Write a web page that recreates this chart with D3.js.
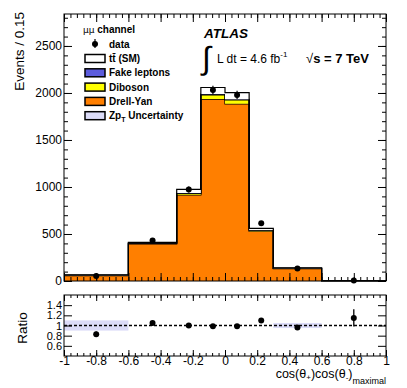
<!DOCTYPE html>
<html>
<head>
<meta charset="utf-8">
<script src="https://cdn.jsdelivr.net/npm/d3@7"></script>
<style>
body { margin: 0; background: #fff; }
text { font-family: "Liberation Sans", Arial, sans-serif; fill: #000; }
</style>
</head>
<body>
<svg id="chart" width="407" height="388"></svg>
<script>
// bin edges in cos(theta+)cos(theta-)
const binEdges = [-1, -0.6, -0.3, -0.15, 0, 0.15, 0.3, 0.6, 1];
// events / 0.15
const drellYan = [58, 395, 915, 1935, 1885, 530, 132, 3];
const diboson  = [2, 6, 15, 45, 40, 10, 2, 0.5];
const fakeLep  = [1, 2, 5, 8, 8, 3, 1, 0.5];
const ttbar    = [4, 8, 40, 70, 70, 17, 4, 1];
const dataVals = [54, 432, 973, 2032, 1979, 614, 134, 6];
const dataErr  = [6, 16, 32, 45, 44, 19, 9, 3];
// lower panel
const ratioVals = [0.83, 1.05, 1.0, 0.985, 0.985, 1.10, 0.96, 1.15];
const ratioErr  = [0.05, 0.02, 0.015, 0.01, 0.01, 0.02, 0.03, 0.17];
const zptBand   = [0.1, 0, 0, 0, 0, 0, 0.05, 0];

const yTicks = [0, 500, 1000, 1500, 2000, 2500];
const xTicks = [-1, -0.8, -0.6, -0.4, -0.2, 0, 0.2, 0.4, 0.6, 0.8, 1];
const ratioTicks = [0.6, 0.8, 1, 1.2, 1.4];

const colors = { dy: "#ff7f00", dib: "#ffff00", fake: "#5c5cdc", tt: "#ffffff", band: "#dcdcf8" };

const svg = d3.select("#chart");
const left = 64, right = 386;
const mainTop = 14, mainBot = 281;
const ratTop = 295, ratBot = 356;

const x = d3.scaleLinear().domain([-1, 1]).range([left, right]);
const y = d3.scaleLinear().domain([0, 2840]).range([mainBot, mainTop]);
const yr = d3.scaleLinear().domain([0.4, 1.6]).range([ratBot, ratTop]);

const nb = drellYan.length;
const table = d3.range(nb).map(i => ({ dy: drellYan[i], dib: diboson[i], fake: fakeLep[i], tt: ttbar[i] }));
const layers = d3.stack().keys(["dy", "dib", "fake", "tt"])(table);

// ---- main panel ----
const g = svg.append("g");

layers.forEach(layer => {
  const pts = binEdges.map((e, i) => layer[Math.min(i, nb - 1)]);
  const area = d3.area().curve(d3.curveStepAfter)
    .x((d, i) => x(binEdges[i])).y0(d => y(d[0])).y1(d => y(d[1]));
  g.append("path").attr("d", area(pts)).attr("fill", colors[layer.key]);
  const line = d3.line().curve(d3.curveStepAfter)
    .x((d, i) => x(binEdges[i])).y(d => y(d[1]));
  g.append("path").attr("d", line(pts)).attr("fill", "none")
    .attr("stroke", "#000").attr("stroke-width", 1.2);
});

// frame + ticks
function frame(y0, y1) {
  svg.append("rect").attr("x", left).attr("y", y0).attr("width", right - left).attr("height", y1 - y0)
    .attr("fill", "none").attr("stroke", "#000").attr("stroke-width", 1);
}
function ticks(axis, tr, vals, size, fmt, pad, fs) {
  const a = svg.append("g").attr("transform", tr)
    .call(axis.tickValues(vals).tickSizeInner(-size).tickSizeOuter(0).tickPadding(pad == null ? 2 : pad)
      .tickFormat(fmt || (() => "")));
  a.select(".domain").remove();
  a.selectAll("line").attr("stroke", "#000");
  a.selectAll("text").attr("font-size", fs || 12).attr("fill", "#000");
  return a;
}
const xMinor = d3.range(-1, 1.0001, 0.04).map(v => +v.toFixed(2));
const yMinor = d3.range(0, 2801, 100);
const fmt = d => String(d);

frame(mainTop, mainBot);
ticks(d3.axisLeft(y), `translate(${left},0)`, yTicks, 8, fmt);
ticks(d3.axisLeft(y), `translate(${left},0)`, yMinor, 4);
ticks(d3.axisRight(y), `translate(${right},0)`, yTicks, 8);
ticks(d3.axisRight(y), `translate(${right},0)`, yMinor, 4);
ticks(d3.axisBottom(x), `translate(0,${mainBot})`, xTicks, 8);
ticks(d3.axisBottom(x), `translate(0,${mainBot})`, xMinor, 4);
ticks(d3.axisTop(x), `translate(0,${mainTop})`, xTicks, 8);
ticks(d3.axisTop(x), `translate(0,${mainTop})`, xMinor, 4);

// data points
const centers = d3.range(nb).map(i => (binEdges[i] + binEdges[i + 1]) / 2);
g.selectAll(".err").data(dataVals).join("line")
  .attr("x1", (d, i) => x(centers[i])).attr("x2", (d, i) => x(centers[i]))
  .attr("y1", (d, i) => y(d - dataErr[i])).attr("y2", (d, i) => y(d + dataErr[i]))
  .attr("stroke", "#000").attr("stroke-width", 1.2);
g.selectAll(".pt").data(dataVals).join("circle")
  .attr("cx", (d, i) => x(centers[i])).attr("cy", d => y(d)).attr("r", 3).attr("fill", "#000");

svg.append("text").attr("transform", "translate(24,12) rotate(-90)")
  .attr("text-anchor", "end").attr("font-size", 13.5).text("Events / 0.15");

// legend
const lg = svg.append("g");
lg.append("text").attr("x", 83).attr("y", 33).attr("font-size", 10).attr("font-weight", "bold")
  .html('<tspan font-weight="normal" font-family="DejaVu Sans" font-size="9">μμ</tspan> channel');
lg.append("line").attr("x1", 95).attr("x2", 95).attr("y1", 39).attr("y2", 48).attr("stroke", "#000").attr("stroke-width", 1.2);
lg.append("circle").attr("cx", 95).attr("cy", 44).attr("r", 3).attr("fill", "#000");
lg.append("text").attr("x", 109).attr("y", 47.5).attr("font-size", 10).attr("font-weight", "bold").text("data");
const legItems = [
  { key: "tt", label: "tt\u0304 (SM)" },
  { key: "fake", label: "Fake leptons" },
  { key: "dib", label: "Diboson" },
  { key: "dy", label: "Drell-Yan" },
  { key: "band", label: "Zp" }
];
legItems.forEach((d, i) => {
  const cy = 58.5 + i * 14.3;
  lg.append("rect").attr("x", 85).attr("y", cy - 4).attr("width", 20).attr("height", 8)
    .attr("fill", colors[d.key]).attr("stroke", "#000").attr("stroke-width", 1.5);
  const t = lg.append("text").attr("x", 109).attr("y", cy + 3.5).attr("font-size", 10).attr("font-weight", "bold").text(d.label);
  if (d.key === "band") {
    t.append("tspan").attr("font-size", 7).attr("dy", 3).text("T");
    t.append("tspan").attr("dy", -3).text(" Uncertainty");
  }
});

// labels
svg.append("text").attr("x", 204).attr("y", 38).attr("font-size", 13.5).attr("font-weight", "bold")
  .attr("font-style", "italic").text("ATLAS");
svg.append("text").attr("x", 202).attr("y", 69).attr("font-size", 32).attr("font-family", "Liberation Serif")
  .text("\u222B");
svg.append("text").attr("x", 217).attr("y", 63).attr("font-size", 12)
  .html('L dt = 4.6 fb<tspan font-size="8" dy="-6">-1</tspan>');
svg.append("text").attr("x", 306).attr("y", 63).attr("font-size", 13)
  .html('\u221A<tspan font-weight="bold">s = 7 TeV</tspan>');

// ---- ratio panel ----
const rg = svg.append("g");
zptBand.forEach((b, i) => {
  if (b > 0) rg.append("rect").attr("x", x(binEdges[i])).attr("width", x(binEdges[i + 1]) - x(binEdges[i]))
    .attr("y", yr(1 + b)).attr("height", yr(1 - b) - yr(1 + b)).attr("fill", colors.band);
});
rg.append("line").attr("x1", left).attr("x2", right).attr("y1", yr(1)).attr("y2", yr(1))
  .attr("stroke", "#000").attr("stroke-width", 1.3).attr("stroke-dasharray", "3,2");

frame(ratTop, ratBot);
ticks(d3.axisLeft(yr), `translate(${left},0)`, ratioTicks, 8, fmt, 2, 11);
ticks(d3.axisRight(yr), `translate(${right},0)`, ratioTicks, 8);
ticks(d3.axisBottom(x), `translate(0,${ratBot})`, xTicks, 6, fmt, 0);
ticks(d3.axisBottom(x), `translate(0,${ratBot})`, xMinor, 3);
ticks(d3.axisTop(x), `translate(0,${ratTop})`, xTicks, 6);
ticks(d3.axisTop(x), `translate(0,${ratTop})`, xMinor, 3);

rg.selectAll(".rerr").data(ratioVals).join("line")
  .attr("x1", (d, i) => x(centers[i])).attr("x2", (d, i) => x(centers[i]))
  .attr("y1", (d, i) => yr(d - ratioErr[i])).attr("y2", (d, i) => yr(d + ratioErr[i]))
  .attr("stroke", "#000").attr("stroke-width", 1.3);
rg.selectAll(".rpt").data(ratioVals).join("circle")
  .attr("cx", (d, i) => x(centers[i])).attr("cy", d => yr(d)).attr("r", 3).attr("fill", "#000");

svg.append("text").attr("transform", "translate(27,328) rotate(-90)")
  .attr("text-anchor", "middle").attr("font-size", 13.5).text("Ratio");
svg.append("text").attr("x", right).attr("y", 378).attr("text-anchor", "end").attr("font-size", 12.5)
  .html('cos(θ<tspan font-size="8" dy="2">+</tspan><tspan dy="-2">)cos(θ</tspan><tspan font-size="8" dy="2">-</tspan><tspan dy="-2">)</tspan><tspan font-size="9" dy="6">maximal</tspan>');
</script>
</body>
</html>
